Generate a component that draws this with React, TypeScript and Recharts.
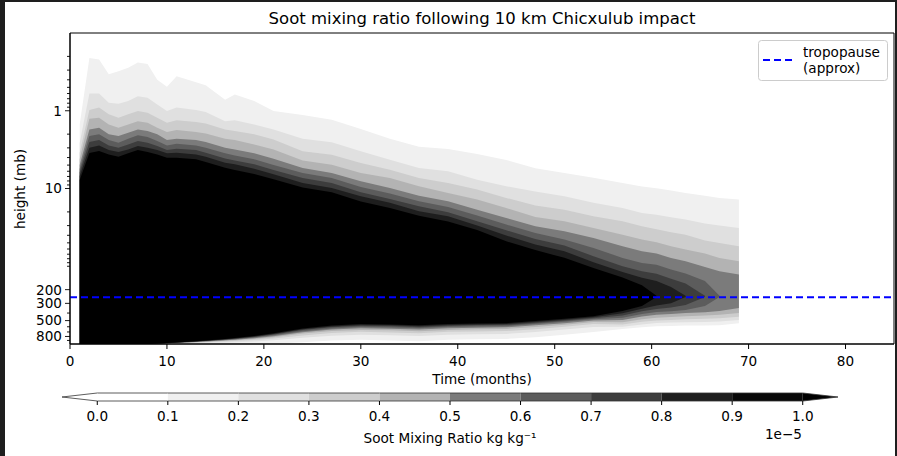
import React from "react";
import { ComposedChart, Area, XAxis, YAxis, ReferenceLine, ReferenceArea } from "recharts";

const FONT = "DejaVu Sans";

// time axis (months) of the contour slices
const months = [1, 2, 3, 4, 5, 6, 7, 8, 9, 10, 11, 13, 14, 16, 17, 19, 21, 24, 27, 30, 33, 36, 39, 42, 45, 48, 51, 54, 57, 59, 60.5, 62, 63.5, 65.5, 67, 69];

// upper edge (mb) of each contour level 0.1 .. 0.9 (x1e-5 kg/kg)
const top1 = [1.5, 0.21, 0.22, 0.34, 0.31, 0.28, 0.24, 0.25, 0.4, 0.49, 0.36, 0.43, 0.47, 0.72, 0.62, 0.75, 1.01, 1.13, 1.31, 1.72, 2.3, 2.9, 3.1, 3.6, 4.3, 5.5, 6.3, 7.3, 8.5, 9.4, 9.9, 10.6, 11.4, 12.4, 13.2, 13.9];
const top2 = [2.6, 0.6, 0.6, 0.79, 0.81, 0.75, 0.65, 0.68, 0.83, 1.01, 0.91, 0.98, 1.04, 1.36, 1.32, 1.5, 1.74, 2.29, 2.55, 3.33, 4.26, 5.45, 6.02, 7.7, 9.37, 10.9, 12.6, 15.3, 17.8, 20.6, 21.7, 23.4, 25.1, 28.2, 30, 32.2];
const top3 = [3.5, 0.98, 0.91, 1.11, 1.23, 1.11, 1.01, 1.06, 1.23, 1.43, 1.32, 1.4, 1.46, 1.74, 1.82, 2.01, 2.34, 3.33, 3.67, 4.7, 5.73, 7.33, 8.49, 10.3, 13.2, 16.6, 18.7, 22.8, 26.4, 30.6, 33.5, 36.5, 39.2, 46.5, 50.1, 55.3];
const top4 = [4.2, 1.27, 1.23, 1.5, 1.65, 1.5, 1.36, 1.43, 1.65, 1.88, 1.77, 1.88, 1.96, 2.29, 2.38, 2.71, 3.14, 4.35, 4.94, 6.32, 7.33, 9.37, 11.4, 13.9, 17.8, 23.2, 26.4, 32.2, 39.2, 45.4, 49, 55.3, 61, 68.7, 78.1, 86.2];
const top5 = [5.0, 1.74, 1.65, 2.01, 2.12, 1.92, 1.74, 1.82, 2.01, 2.38, 2.29, 2.38, 2.53, 2.99, 3.14, 3.53, 4.14, 5.45, 6.32, 8.09, 9.84, 12.4, 14.6, 18.7, 23.9, 30.6, 35.5, 43.2, 55.3, 64.1, 68.7, 78.1, 86.2, 102, 116, 128];
const top6 = [5.6, 2.12, 2.01, 2.38, 2.58, 2.29, 2.07, 2.18, 2.45, 2.79, 2.65, 2.79, 2.99, 3.53, 3.75, 4.22, 4.98, 6.32, 7.33, 9.56, 11.6, 14.6, 17.3, 22.3, 29.1, 37.3, 45.4, 58.1, 78.1, 90.6, 96, 110, 124, 155, 240, null];
const top7 = [6.2, 2.53, 2.38, 2.79, 2.99, 2.71, 2.45, 2.58, 2.84, 3.2, 3.08, 3.2, 3.46, 4.1, 4.35, 4.89, 5.78, 7.32, 8.49, 11.2, 13.6, 16.9, 20.2, 26.4, 34.5, 44.5, 54.2, 74.3, 100, 116, 125, 145, 167, 240, null, null];
const top8 = [6.9, 2.99, 2.79, 3.2, 3.4, 3.14, 2.84, 2.99, 3.2, 3.53, 3.46, 3.64, 3.9, 4.66, 4.89, 5.56, 6.58, 8.49, 9.84, 12.6, 15.3, 19.6, 22.8, 30, 40.3, 52.6, 64.1, 88.8, 119, 141, 155, 185, 240, null, null, null];
const top9 = [7.8, 3.5, 3.3, 3.64, 3.9, 3.53, 3.2, 3.4, 3.64, 4.02, 4.02, 4.22, 4.55, 5.4, 5.78, 6.5, 7.6, 9.7, 11.2, 14.7, 17.8, 22.4, 26.6, 34.3, 47.7, 62, 78, 105, 140, 175, 240, null, null, null, null, null];

// lower edge (mb) of each contour level
const bot1 = [1000, 1000, 1000, 1000, 1000, 1000, 1000, 1000, 1000, 1000, 1000, 1000, 1000, 1000, 1000, 1000, 990, 950, 900, 880, 900, 920, 880, 870, 860, 820, 760, 700, 640, 610, 590, 585, 580, 578, 575, 540];
const bot2 = [1000, 1000, 1000, 1000, 1000, 1000, 1000, 1000, 995, 990, 986, 973, 966, 955, 946, 928, 898, 833, 785, 758, 772, 789, 758, 749, 741, 703, 653, 605, 599, 561, 535, 530, 525, 520, 515, 490];
const bot3 = [1000, 1000, 1000, 1000, 1000, 1000, 1000, 1000, 993, 985, 977, 959, 948, 929, 917, 889, 850, 776, 723, 698, 709, 726, 698, 690, 682, 644, 600, 555, 560, 519, 497, 490, 482, 475, 468, 445];
const bot4 = [1000, 1000, 1000, 1000, 1000, 1000, 1000, 1000, 991, 981, 971, 949, 935, 910, 895, 862, 817, 735, 682, 659, 666, 683, 659, 647, 641, 605, 565, 523, 524, 480, 458, 450, 440, 430, 420, 400];
const bot5 = [1000, 1000, 1000, 1000, 1000, 1000, 1000, 1000, 989, 978, 967, 941, 926, 896, 880, 841, 792, 705, 652, 628, 635, 651, 628, 617, 611, 575, 539, 498, 491, 443, 420, 410, 400, 390, 375, 345];
const bot6 = [1000, 1000, 1000, 1000, 1000, 1000, 1000, 1000, 988, 976, 964, 935, 918, 885, 868, 826, 773, 683, 630, 606, 613, 628, 606, 595, 590, 553, 519, 480, 459, 410, 388, 378, 365, 325, 248, null];
const bot7 = [1000, 1000, 1000, 1000, 1000, 1000, 1000, 1000, 987, 974, 960, 929, 911, 876, 858, 813, 757, 662, 611, 587, 593, 608, 587, 576, 571, 535, 502, 465, 429, 380, 355, 340, 315, 248, null, null];
const bot8 = [1000, 1000, 1000, 1000, 1000, 1000, 1000, 1000, 986, 972, 958, 925, 906, 868, 849, 801, 743, 646, 596, 571, 576, 591, 571, 560, 555, 520, 488, 452, 401, 351, 320, 300, 248, null, null, null];
const bot9 = [1000, 1000, 1000, 1000, 1000, 1000, 1000, 1000, 985, 970, 955, 920, 900, 860, 840, 790, 730, 630, 580, 555, 560, 575, 555, 545, 540, 505, 475, 440, 375, 325, 248, null, null, null, null, null];

const levelTops = [top1, top2, top3, top4, top5, top6, top7, top8, top9];
const levelBots = [bot1, bot2, bot3, bot4, bot5, bot6, bot7, bot8, bot9];
const levelFills = ["#f0f0f0", "#e0e0e0", "#cdcdcd", "#b3b3b3", "#7b7b7b", "#5c5c5c", "#3d3d3d", "#1e1e1e", "#000000"];

const tropopause = 250;
const xTicks = [0, 10, 20, 30, 40, 50, 60, 70, 80];
const yTicks = [0.2, 0.3, 0.4, 0.5, 0.6, 0.7, 0.8, 0.9, 1, 2, 3, 4, 5, 6, 7, 8, 9, 10, 20, 30, 40, 50, 60, 70, 80, 90, 100, 200, 300, 400, 500, 600, 700, 800, 900];
const yLabelled = [1, 10, 200, 300, 500, 800];

// colorbar
const cbTicks = [0, 0.1, 0.2, 0.3, 0.4, 0.5, 0.6, 0.7, 0.8, 0.9, 1.0];
const cbFills = ["#ffffff", "#ffffff", "#f0f0f0", "#e0e0e0", "#cdcdcd", "#b3b3b3", "#7b7b7b", "#5c5c5c", "#3d3d3d", "#1e1e1e", "#080808", "#000000"];

const rows = months.map((m, i) => {
  const r: any = { month: m };
  levelTops.forEach((t, k) => {
    r[`L${k + 1}`] = t[i] == null ? null : [t[i], levelBots[k][i]];
  });
  return r;
});

const cbEdges = [-0.05, ...cbTicks, 1.05];
const cbRows = cbEdges.map((x, i) => {
  const r: any = { x };
  cbFills.forEach((_, k) => {
    if (i === k || i === k + 1) {
      const tip = (k === 0 && i === 0) || (k === cbFills.length - 1 && i === cbEdges.length - 1);
      r[`b${k}`] = tip ? [0.5, 0.5] : [0, 1];
    } else {
      r[`b${k}`] = null;
    }
  });
  return r;
});

function YTick(props: any) {
  const { x, y, payload } = props;
  const major = yLabelled.includes(payload.value);
  return (
    <g>
      <line x1={x - (major ? 5 : 3)} x2={x} y1={y} y2={y} stroke="#000" strokeWidth={0.9} />
      {major && (
        <text x={x - 8} y={y} dy="0.36em" textAnchor="end" fontSize={13.6} fontFamily={FONT} fill="#000">
          {payload.value}
        </text>
      )}
    </g>
  );
}

export default function App() {
  return (
    <div style={{ position: "absolute", left: 0, top: 0, width: 897, height: 456, background: "#1e1e1e", overflow: "hidden" }}>
      <div style={{ position: "absolute", left: 5, top: 2, width: 890, height: 454, background: "#fff" }} />
      <div style={{ position: "absolute", left: 0, top: 0 }}>
        <ComposedChart width={897} height={390} data={rows} margin={{ top: 33, right: 3, bottom: 16, left: 0 }}>
          <XAxis
            dataKey="month"
            type="number"
            domain={[0, 85]}
            ticks={xTicks}
            interval={0}
            height={30}
            tickSize={5}
            tickMargin={7}
            stroke="#000"
            tick={{ fontSize: 13.6, fill: "#000", fontFamily: FONT }}
            allowDataOverflow
          />
          <YAxis
            type="number"
            scale="log"
            domain={[0.1, 1000]}
            reversed
            ticks={yTicks}
            interval={0}
            width={70}
            tick={<YTick />}
            tickLine={false}
            tickSize={0}
            tickMargin={0}
            axisLine={{ stroke: "#000" }}
            allowDataOverflow
          />
          {levelFills.map((c, k) => (
            <Area
              key={k}
              dataKey={`L${k + 1}`}
              type="linear"
              fill={c}
              fillOpacity={1}
              stroke="none"
              dot={false}
              activeDot={false}
              connectNulls={false}
              isAnimationActive={false}
            />
          ))}
          <ReferenceLine y={tropopause} stroke="#0000ff" strokeWidth={2} strokeDasharray="7 4" />
          <ReferenceArea x1={0} x2={85} y1={0.1} y2={1000} fill="none" stroke="#000" ifOverflow="visible" />
        </ComposedChart>
      </div>
      <div style={{ position: "absolute", left: 0, top: 380 }}>
        <ComposedChart width={897} height={76} data={cbRows} margin={{ top: 13, right: 59, bottom: 25, left: 62 }}>
          <XAxis
            dataKey="x"
            type="number"
            domain={[-0.05, 1.05]}
            ticks={cbTicks}
            interval={0}
            height={30}
            axisLine={false}
            tickLine={{ stroke: "#000" }}
            tickSize={4}
            tickMargin={6}
            tickFormatter={(v: number) => v.toFixed(1)}
            tick={{ fontSize: 13.6, fill: "#000", fontFamily: FONT }}
          />
          <YAxis type="number" domain={[0, 1]} hide />
          {cbFills.map((c, k) => (
            <Area
              key={k}
              dataKey={`b${k}`}
              type="linear"
              fill={c}
              fillOpacity={1}
              stroke="#333"
              strokeWidth={0.8}
              dot={false}
              activeDot={false}
              connectNulls={false}
              isAnimationActive={false}
            />
          ))}
        </ComposedChart>
      </div>
      <svg width={897} height={456} style={{ position: "absolute", left: 0, top: 0, pointerEvents: "none" }} fontFamily={FONT}>
        <text x={482} y={24} textAnchor="middle" fontSize={16.5} fill="#000">
          Soot mixing ratio following 10 km Chicxulub impact
        </text>
        <text transform="rotate(-90)" x={-189} y={25} textAnchor="middle" fontSize={13.6} fill="#000">
          height (mb)
        </text>
        <text x={482} y={384} textAnchor="middle" fontSize={13.6} fill="#000">
          Time (months)
        </text>
        <text x={450} y={442.5} textAnchor="middle" fontSize={13.6} fill="#000">
          Soot Mixing Ratio kg kg⁻¹
        </text>
        <text x={802} y={439} textAnchor="end" fontSize={13.6} fill="#000">
          1e−5
        </text>
        <rect x={758.5} y={40.5} width={129} height={40} rx={3} fill="#fff" fillOpacity={0.8} stroke="#cccccc" />
        <line x1={763} x2={792} y1={60} y2={60} stroke="#0000ff" strokeWidth={2} strokeDasharray="7 4" />
        <text x={803} y={56.5} fontSize={13.6} fill="#000">tropopause</text>
        <text x={803} y={73} fontSize={13.6} fill="#000">(approx)</text>
      </svg>
    </div>
  );
}
